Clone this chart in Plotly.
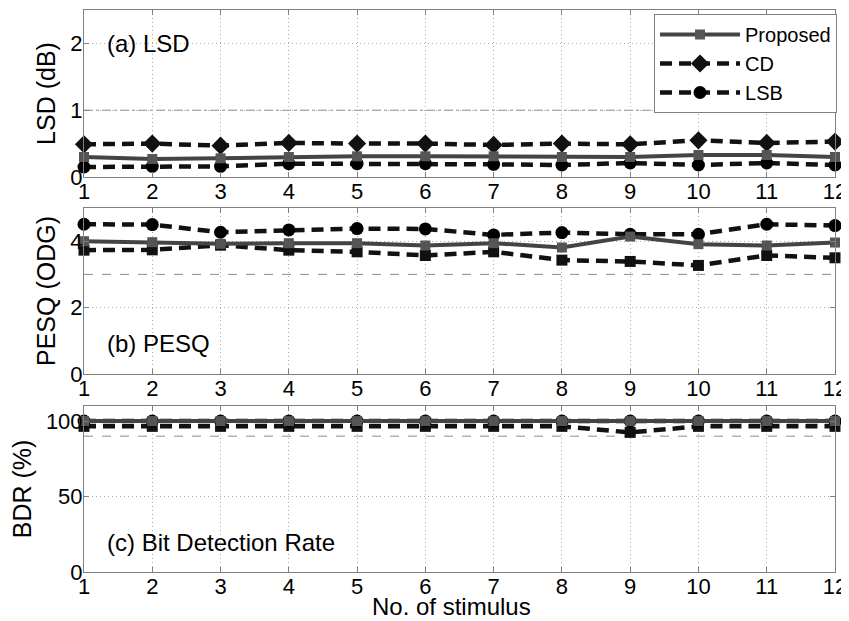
import plotly.graph_objects as go

stimulus = list(range(1, 13))
tick_labels = [str(i) for i in stimulus]

# (a) LSD (dB)
lsd_proposed = [0.30, 0.27, 0.28, 0.30, 0.31, 0.31, 0.31, 0.30, 0.30, 0.33, 0.33, 0.30]
lsd_cd = [0.49, 0.50, 0.47, 0.51, 0.50, 0.50, 0.48, 0.50, 0.49, 0.55, 0.51, 0.53]
lsd_lsb = [0.15, 0.16, 0.16, 0.20, 0.20, 0.20, 0.19, 0.18, 0.21, 0.18, 0.21, 0.18]

# (b) PESQ (ODG)
pesq_proposed = [4.00, 3.97, 3.92, 3.94, 3.94, 3.87, 3.94, 3.81, 4.14, 3.91, 3.87, 3.96]
pesq_cd = [3.73, 3.74, 3.88, 3.73, 3.68, 3.57, 3.68, 3.43, 3.39, 3.27, 3.57, 3.50]
pesq_lsb = [4.51, 4.50, 4.27, 4.34, 4.38, 4.37, 4.19, 4.26, 4.21, 4.21, 4.51, 4.47]

# (c) BDR (%)
bdr_proposed = [100] * 12
bdr_cd = [96.5, 96.5, 96.5, 96.5, 96.5, 96.5, 96.5, 96.5, 92.5, 96.5, 96.5, 96.5]
bdr_lsb = [100] * 12

ref_levels = [1, 3, 90]
ref_dashes = ["dashdot", "dash", "dash"]
y_ranges = [[0, 2.5], [0, 5], [0, 110]]
y_ticks = [[0, 1, 2], [0, 2, 4], [0, 50, 100]]
y_titles = ["LSD (dB)", "PESQ (ODG)", "BDR (%)"]
panel_labels = ["(a) LSD", "(b) PESQ", "(c) Bit Detection Rate"]
panel_label_y = [2.0, 0.93, 19.4]
series_names = ["Proposed", "CD", "LSB"]

FONT = "Liberation Sans, Arial, sans-serif"
PROP_LINE = "#444444"
PROP_MARK = "#555555"
BLACK = "#111111"
DASH = "12px,7px"

panels = [
    (lsd_proposed, lsd_cd, lsd_lsb, "diamond"),
    (pesq_proposed, pesq_cd, pesq_lsb, "square"),
    (bdr_proposed, bdr_cd, bdr_lsb, "square"),
]

fig = go.Figure()
for i, (prop, cd, lsb, cd_symbol) in enumerate(panels):
    xa = "x" if i == 0 else f"x{i+1}"
    ya = "y" if i == 0 else f"y{i+1}"
    first = i == 0
    fig.add_trace(go.Scatter(
        x=stimulus, y=cd, name=series_names[1], legendgroup="cd", showlegend=first,
        mode="lines+markers", xaxis=xa, yaxis=ya, cliponaxis=False,
        line=dict(color=BLACK, width=4.5, dash=DASH),
        marker=dict(symbol=cd_symbol, size=14 if cd_symbol == "diamond" else 11, color=BLACK),
        legendrank=2,
    ))
    fig.add_trace(go.Scatter(
        x=stimulus, y=lsb, name=series_names[2], legendgroup="lsb", showlegend=first,
        mode="lines+markers", xaxis=xa, yaxis=ya, cliponaxis=False,
        line=dict(color=BLACK, width=4.5, dash=DASH),
        marker=dict(symbol="circle", size=13, color="#000000"),
        legendrank=3,
    ))
    fig.add_trace(go.Scatter(
        x=stimulus, y=prop, name=series_names[0], legendgroup="prop", showlegend=first,
        mode="lines+markers", xaxis=xa, yaxis=ya, cliponaxis=False,
        line=dict(color=PROP_LINE, width=4),
        marker=dict(symbol="square", size=10, color=PROP_MARK),
        legendrank=1,
    ))

# page has an 8px body margin; figure is sized to fit inside the window
domains = [[0.7028, 1.0], [0.3523, 0.6477], [0.0, 0.2954]]
axis_common = dict(
    showline=True, linecolor="#808080", linewidth=1, mirror="ticks",
    ticks="inside", ticklen=5, tickcolor="#808080", automargin=False,
    showgrid=True, gridcolor="#a8a8a8", griddash="1px,3px", gridwidth=1,
    zeroline=False, tickfont=dict(family=FONT, size=22, color="#000000"),
)
layout = dict(
    width=841, height=613,
    margin=dict(l=76, r=14, t=2, b=49),
    paper_bgcolor="white", plot_bgcolor="white",
    font=dict(family=FONT, color="#000000"),
    legend=dict(
        x=1.0027, y=0.9929, xanchor="right", yanchor="top",
        bgcolor="white", bordercolor="#808080", borderwidth=1,
        font=dict(family=FONT, size=20, color="#000000"),
        itemwidth=80, traceorder="normal",
    ),
    shapes=[], annotations=[],
)
for i in range(3):
    sx = "" if i == 0 else str(i + 1)
    layout[f"xaxis{sx}"] = dict(
        axis_common, domain=[0, 1], anchor=f"y{sx}", range=[1, 12],
        tickvals=stimulus, ticktext=tick_labels, ticklabelstandoff=-5,
    )
    layout[f"yaxis{sx}"] = dict(
        axis_common, domain=domains[i], anchor=f"x{sx}", range=y_ranges[i],
        tickvals=y_ticks[i], ticklabelstandoff=-4,
        title=dict(text=y_titles[i], font=dict(family=FONT, size=25, color="#000000"), standoff=7),
    )
    layout["shapes"].append(dict(
        type="line", xref=f"x{sx}", yref=f"y{sx}", x0=1, x1=12,
        y0=ref_levels[i], y1=ref_levels[i], layer="below",
        line=dict(color="#8c8c8c", width=1, dash=ref_dashes[i]),
    ))
    layout["annotations"].append(dict(
        text=panel_labels[i], xref=f"x{sx}", yref=f"y{sx}", x=1.31, y=panel_label_y[i],
        xanchor="left", yanchor="middle", showarrow=False,
        font=dict(family=FONT, size=24, color="#000000"),
    ))

layout["annotations"].append(dict(
    text="No. of stimulus", xref="paper", yref="paper", x=0.489, y=-0.089,
    xanchor="center", yanchor="bottom", showarrow=False,
    font=dict(family=FONT, size=24, color="#000000"),
))

fig.update_layout(**layout)
fig.write_html("out.html")
